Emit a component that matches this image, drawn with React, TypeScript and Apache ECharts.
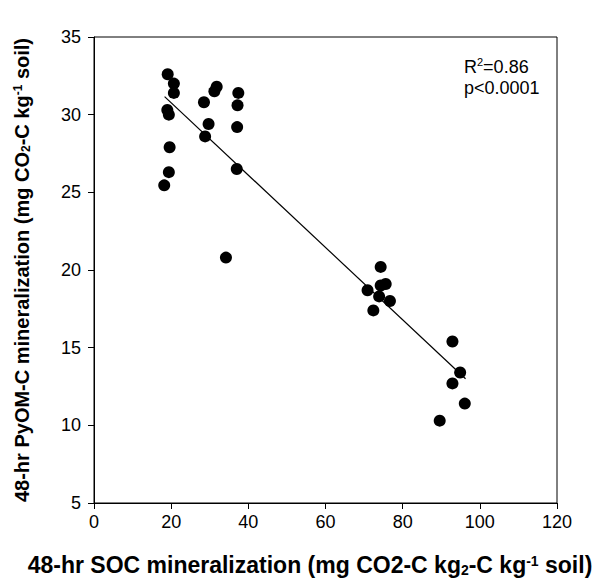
import React, { useEffect, useRef } from "react";
import * as echarts from "echarts";

const socX = [19.1, 20.7, 20.7, 19.0, 19.4, 19.6, 19.4, 18.2, 31.8, 31.2, 28.5, 29.7, 28.8, 37.4, 37.2, 37.1, 37.0, 34.2, 74.3, 70.9, 74.3, 75.6, 73.9, 76.7, 72.4, 92.9, 94.9, 92.9, 96.1, 89.6];
const pyomY = [32.6, 32.0, 31.4, 30.3, 30.0, 27.9, 26.3, 25.45, 31.8, 31.5, 30.8, 29.4, 28.6, 31.4, 30.6, 29.2, 26.5, 20.8, 20.2, 18.7, 19.0, 19.1, 18.3, 18.0, 17.4, 15.4, 13.4, 12.7, 11.4, 10.3];
const fitLine = [[18.3, 31.16], [96.3, 13.0]];
const xTicks = { min: 0, max: 120, interval: 20 };
const yTicks = { min: 5, max: 35, interval: 5 };
const statLines = ["R{sup|2}=0.86", "p<0.0001"];
const xTitle = "48-hr SOC mineralization (mg CO2-C kg{sub|2}-C kg{sup|-1} soil)";
const yTitle = "48-hr PyOM-C mineralization (mg CO{sub|2}-C kg{sup|-1} soil)";

const FONT = "'Liberation Sans', Arial, Helvetica, sans-serif";

export default function App() {
  const ref = useRef<HTMLDivElement>(null);
  useEffect(() => {
    document.body.style.margin = "0";
    const chart = echarts.init(ref.current!, null, { renderer: "svg" });
    const mkRich = (s: number, pad: number) => ({
      sub: { fontSize: s, fontWeight: "bold", fontFamily: FONT, color: "#000", fill: "#000", verticalAlign: "bottom", lineHeight: s, padding: [pad, 0, 0, 0] },
      sup: { fontSize: s, fontWeight: "bold", fontFamily: FONT, color: "#000", fill: "#000", verticalAlign: "top", lineHeight: s, padding: [0, 0, pad, 0] },
    });
    chart.setOption({
      animation: false,
      backgroundColor: "#fff",
      grid: { left: 94, right: 43, top: 37, bottom: 83, show: true, borderColor: "#000", borderWidth: 1 },
      xAxis: {
        type: "value",
        min: xTicks.min,
        max: xTicks.max,
        interval: xTicks.interval,
        axisLine: { show: true, lineStyle: { color: "#000", width: 1 } },
        axisTick: { show: true, inside: false, length: 6, lineStyle: { color: "#000" } },
        axisLabel: { fontSize: 18, fontFamily: FONT, color: "#000", margin: 10 },
        splitLine: { show: false },
      },
      yAxis: {
        type: "value",
        min: yTicks.min,
        max: yTicks.max,
        interval: yTicks.interval,
        name: yTitle,
        nameLocation: "middle",
        nameGap: 62,
        nameRotate: 90,
        nameTextStyle: { fontSize: 20, fontWeight: "bold", fontFamily: FONT, color: "#000", rich: mkRich(12, 10) },
        axisLine: { show: true, lineStyle: { color: "#000", width: 1 } },
        axisTick: { show: true, inside: false, length: 6, lineStyle: { color: "#000" } },
        axisLabel: { fontSize: 18, fontFamily: FONT, color: "#000", margin: 13 },
        splitLine: { show: false },
      },
      graphic: [
        {
          type: "text",
          x: 310,
          y: 565,
          style: {
            text: xTitle,
            fontSize: 23,
            fontWeight: "bold",
            fontFamily: FONT,
            fill: "#000",
            align: "center",
            verticalAlign: "middle",
            rich: mkRich(14, 11),
          },
        },
        {
          type: "text",
          left: 464,
          top: 56,
          style: {
            text: statLines.join("\n"),
            fontSize: 18,
            fontFamily: FONT,
            fill: "#000",
            lineHeight: 21,
            rich: {
              sup: { fontSize: 11, fontFamily: FONT, fill: "#000", verticalAlign: "top", lineHeight: 11, padding: [0, 0, 8, 0] },
            },
          },
        },
      ],
      series: [
        {
          type: "line",
          data: fitLine,
          showSymbol: false,
          symbol: "none",
          lineStyle: { color: "#000", width: 1.2 },
          z: 2,
        },
        {
          type: "scatter",
          data: socX.map((x, i) => [x, pyomY[i]]),
          symbol: "circle",
          symbolSize: 12,
          itemStyle: { color: "#000", opacity: 1 },
          z: 3,
        },
      ],
    });
    return () => chart.dispose();
  }, []);
  return <div ref={ref} style={{ width: 600, height: 586 }} />;
}
